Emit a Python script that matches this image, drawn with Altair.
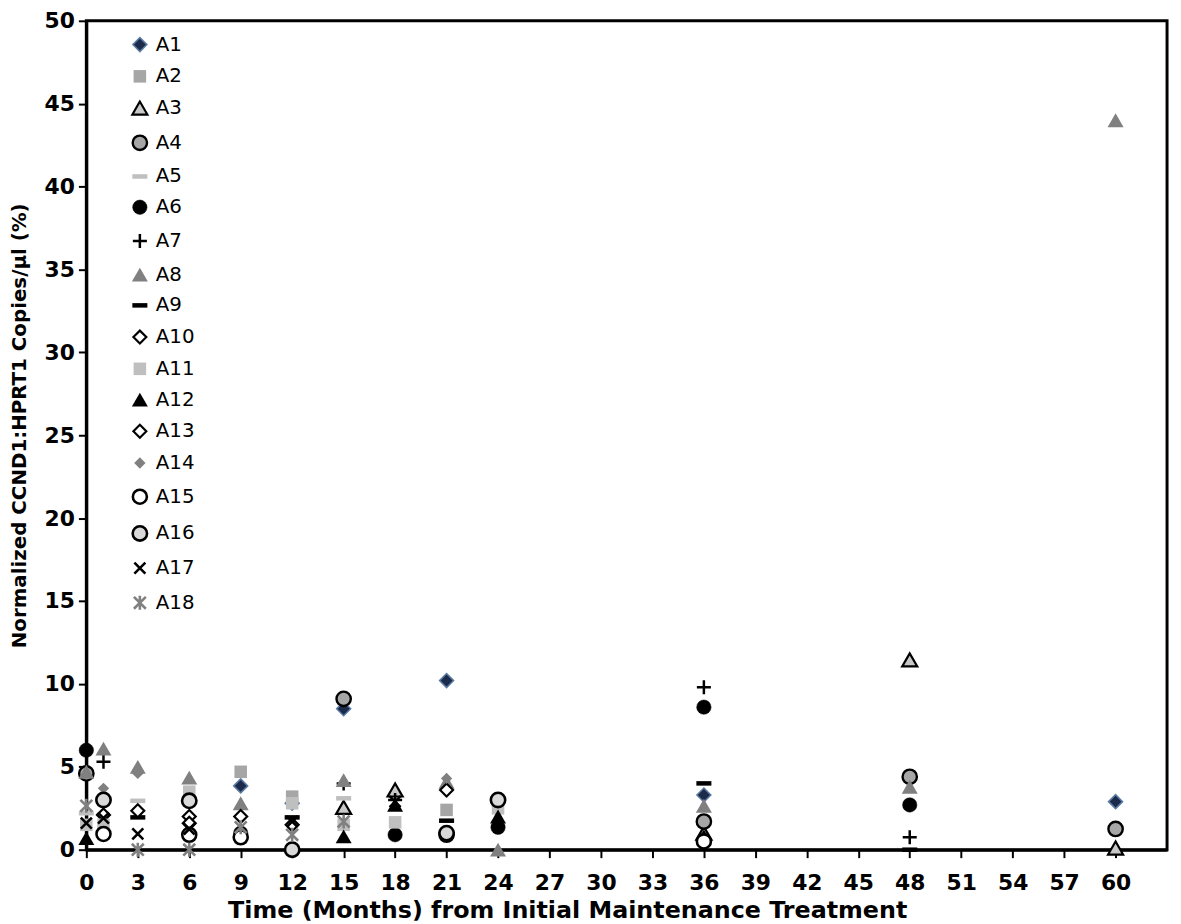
import altair as alt
import pandas as pd

# (time in months, value %) per series
A1 = [(9, 3.85), (12, 2.8), (15, 8.5), (21, 10.2), (36, 3.3), (60, 2.9)]
A2 = [(9, 4.7), (12, 3.2), (21, 2.4)]
A3 = [(15, 2.55), (18, 3.6), (36, 1.0), (48, 11.45), (60, 0.1)]
A4 = [(0, 4.6), (15, 9.1), (36, 1.7), (48, 4.4), (60, 1.25)]
A5 = [(3, 2.95), (15, 3.1), (0, 2.2)]
A6 = [(0, 6.0), (9, 1.0), (18, 0.9), (24, 1.35), (36, 8.6), (48, 2.7)]
A7 = [(1, 5.3), (15, 4.0), (18, 3.0), (36, 9.8), (48, 0.75)]
A8 = [(0, 4.7), (1, 6.1), (3, 5.0), (6, 4.35), (9, 2.8), (15, 4.2), (21, 4.1),
      (24, 0.0), (36, 2.65), (48, 3.8), (60, 44.0)]
A9 = [(3, 1.95), (12, 1.95), (21, 1.75), (36, 4.0), (48, 0.0)]
A10 = [(1, 2.1), (3, 2.35), (6, 2.0), (21, 3.6)]
A11 = [(0, 1.5), (6, 3.5), (12, 2.8), (15, 1.5), (18, 1.65), (24, 2.5), (1, 1.5)]
A12 = [(0, 0.7), (15, 0.8), (18, 2.7), (24, 2.0), (36, 0.8)]
A13 = [(9, 2.0), (6, 1.6), (12, 1.5)]
A14 = [(1, 3.7), (3, 4.6), (21, 4.3)]
A15 = [(1, 0.95), (6, 0.9), (9, 0.75), (21, 0.9), (36, 0.5)]
A16 = [(1, 3.0), (6, 2.95), (12, 0.0), (24, 3.0), (21, 1.0)]
A17 = [(0, 1.6), (1, 1.9), (3, 0.95), (6, 1.25), (12, 1.7), (18, 2.9)]
A18 = [(0, 2.65), (3, 0.0), (6, 0.0), (9, 1.35), (12, 0.9), (15, 1.7)]

names = ["A1", "A2", "A3", "A4", "A5", "A6", "A7", "A8", "A9", "A10",
         "A11", "A12", "A13", "A14", "A15", "A16", "A17", "A18"]
series = [A1, A2, A3, A4, A5, A6, A7, A8, A9, A10,
          A11, A12, A13, A14, A15, A16, A17, A18]

x_ticks = list(range(0, 61, 3))
y_ticks = list(range(0, 51, 5))

DASH = "M-1,-0.3L1,-0.3L1,0.3L-1,0.3Z"
PLUS = "M-1,0L1,0M0,-1L0,1"
XMARK = "M-0.85,-0.85L0.85,0.85M-0.85,0.85L0.85,-0.85"
AST = "M-0.85,-0.85L0.85,0.85M-0.85,0.85L0.85,-0.85M0,-1L0,1"

shapes = ["diamond", "square", "triangle-up", "circle", DASH, "circle", PLUS,
          "triangle-up", DASH, "diamond", "square", "triangle-up", "diamond",
          "diamond", "circle", "circle", XMARK, AST]
fills = ["#1c2b4a", "#a6a6a6", "#c8c8c8", "#a6a6a6", "#bfbfbf", "#000000",
         "transparent", "#808080", "#000000", "#ffffff", "#bfbfbf", "#000000",
         "#ffffff", "#808080", "#ffffff", "#d9d9d9", "transparent", "transparent"]
strokes = ["#5a7aa3", "transparent", "#000000", "#000000", "transparent",
           "#000000", "#000000", "transparent", "transparent", "#000000",
           "transparent", "transparent", "#000000", "transparent", "#000000",
           "#000000", "#000000", "#808080"]
widths = [1.5, 0, 2.2, 2.4, 0, 0.5, 2.5, 0, 0, 2.2, 0, 0, 2.2, 0, 2.6, 2.6, 2.6, 2.6]
sizes = [200, 160, 230, 210, 230, 210, 200, 260, 230, 170, 160, 260, 170,
         130, 200, 210, 170, 200]

rows = []
for n, s in zip(names, series):
    for t, v in s:
        rows.append({"series": n, "time": t, "value": v})
df = pd.DataFrame(rows)

font = "DejaVu Sans"

chart = alt.Chart(df).mark_point(opacity=1, filled=False).encode(
    x=alt.X("time:Q",
            scale=alt.Scale(domain=[0, 63], nice=False, zero=False),
            axis=alt.Axis(values=x_ticks, title="Time (Months) from Initial Maintenance Treatment",
                          grid=False, labelFontSize=22, labelFont=font, labelFontWeight="bold",
                          labelColor="black", titleFont=font, titleFontSize=24,
                          titleFontWeight="bold", titleColor="black", titleX=485, titleY=61,
                          titleBaseline="middle", titleAlign="center",
                          domainColor="black", domainWidth=3, tickColor="black",
                          tickWidth=2, tickSize=8, labelPadding=15, labelFlush=False)),
    y=alt.Y("value:Q",
            scale=alt.Scale(domain=[0, 50], nice=False),
            axis=alt.Axis(values=y_ticks, title="Normalized CCND1:HPRT1 Copies/µl (%)",
                          grid=False, labelFontSize=22, labelFont=font, labelFontWeight="bold",
                          labelColor="black", titleFont=font, titleFontSize=20,
                          titleFontWeight="bold", titleColor="black", titleAngle=270,
                          titleX=-67, titleY=408, titleBaseline="middle", titleAlign="center",
                          domainColor="black", domainWidth=3, tickColor="black",
                          tickWidth=2, tickSize=8, labelPadding=4, labelFlush=False)),
    shape=alt.Shape("series:N", scale=alt.Scale(domain=names, range=shapes), title=None),
    fill=alt.Fill("series:N", scale=alt.Scale(domain=names, range=fills), title=None),
    stroke=alt.Stroke("series:N", scale=alt.Scale(domain=names, range=strokes), title=None),
    strokeWidth=alt.StrokeWidth("series:N", scale=alt.Scale(type="ordinal", domain=names, range=widths), title=None),
    size=alt.Size("series:N", scale=alt.Scale(type="ordinal", domain=names, range=sizes), title=None),
).properties(
    width=1090, height=836,
    autosize=alt.AutoSizeParams(type="none"),
    padding={"left": 79, "top": 9, "right": 6, "bottom": 70},
).configure_view(
    stroke="black", strokeWidth=3
).configure_legend(
    orient="none", legendX=44, legendY=14,
    labelFont=font, labelFontSize=20, labelColor="black",
    rowPadding=11, labelOffset=6, symbolOpacity=1, padding=0,
)

chart.save("out.html", embed_options={"renderer": "svg", "actions": False})
